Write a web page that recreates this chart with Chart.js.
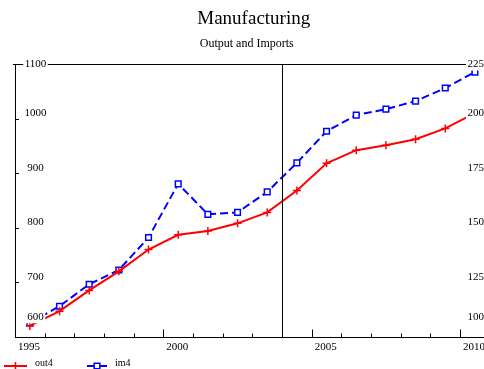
<!DOCTYPE html>
<html>
<head>
<meta charset="utf-8">
<script src="https://cdn.jsdelivr.net/npm/chart.js@4/dist/chart.umd.min.js"></script>
<style>
  html, body { margin: 0; padding: 0; background: #fff; overflow: hidden; }
  #wrap { width: 484px; height: 369px; position: relative; }
</style>
</head>
<body>
<div id="wrap"><canvas id="c"></canvas></div>
<script>
// Annual observations, plotted at mid-year
const years = [1995, 1996, 1997, 1998, 1999, 2000, 2001, 2002, 2003, 2004, 2005, 2006, 2007, 2008, 2009, 2010];
// Manufacturing output (left scale)
const out4 = [620, 647, 685, 720, 760, 787, 794, 808, 828, 868, 918, 942, 951, 962, 982, 1010];
// Manufacturing imports (right scale)
const im4 = [106.4, 114.0, 124.1, 130.6, 145.5, 170.1, 156.1, 157.0, 166.4, 179.7, 194.2, 201.6, 204.3, 208.0, 214.0, 221.3];

const xTickYears = [1995, 1996, 1997, 1998, 1999, 2000, 2001, 2002, 2003, 2004, 2005, 2006, 2007, 2008, 2009, 2010];
const xLabelYears = [1995, 2000, 2005, 2010];
const leftTicks = [600, 700, 800, 900, 1000, 1100];
const rightTicks = [100, 125, 150, 175, 200, 225];
const markerYear = 2004;

const SERIF = "'Liberation Serif', 'Times New Roman', serif";

function line(ctx, x1, y1, x2, y2) {
  ctx.beginPath(); ctx.moveTo(x1, y1); ctx.lineTo(x2, y2); ctx.stroke();
}

// Axis frame, inner tick marks, boxed value labels and the legend
const frame = {
  id: 'frame',
  afterLayout(chart) {
    // nudge the main heading a little to the right of the plot centre
    if (chart.titleBlock) { chart.titleBlock.left += 7; chart.titleBlock.right += 7; }
  },
  afterDatasetsDraw(chart) {
    const { ctx, chartArea: a, scales } = chart;
    const x = scales.x, yL = scales.yL, yR = scales.yR;
    const px = v => Math.round(v) + 0.5;
    const right = chart.width;
    ctx.save();
    ctx.strokeStyle = '#000';
    ctx.lineWidth = 1;
    ctx.setLineDash([]);

    line(ctx, px(a.left), a.top, px(a.left), a.bottom + 0.5);
    line(ctx, a.left - 2, px(a.top), right, px(a.top));
    line(ctx, a.left, px(a.bottom), right, px(a.bottom));
    const xm = px(x.getPixelForValue(markerYear));
    line(ctx, xm, a.top, xm, a.bottom);

    xTickYears.forEach(yr => {
      const len = yr % 5 === 0 ? 8 : 4;
      const xp = px(x.getPixelForValue(yr));
      line(ctx, xp, px(a.bottom), xp, px(a.bottom) - len);
    });
    leftTicks.slice(1, -1).forEach(v => {
      const yp = px(yL.getPixelForValue(v));
      line(ctx, a.left, yp, a.left + 4, yp);
    });

    ctx.font = '11px ' + SERIF;
    ctx.textBaseline = 'middle';
    const place = yp => Math.min(Math.max(yp - 5.5, a.top), a.bottom - 20);
    const boxed = (text, cx, cy, align) => {
      const w = ctx.measureText(text).width;
      const left = align === 'center' ? cx - w / 2 : cx;
      ctx.fillStyle = '#fff';
      ctx.fillRect(left - 1.5, cy - 6.5, w + 3, 13);
      ctx.fillStyle = '#000';
      ctx.textAlign = 'left';
      ctx.fillText(text, left, cy);
    };
    leftTicks.forEach(v => boxed(String(v), a.left + 20.5, place(yL.getPixelForValue(v)), 'center'));
    rightTicks.forEach(v => boxed(String(v), right - 16.5, place(yR.getPixelForValue(v)), 'left'));

    // legend
    const items = [{ x0: 4, x1: 27, tx: 35 }, { x0: 87, x1: 107, tx: 115 }];
    chart.data.datasets.forEach((ds, i) => {
      const it = items[i];
      const ly = 366;
      ctx.strokeStyle = ds.borderColor;
      ctx.lineWidth = ds.borderWidth;
      ctx.setLineDash(ds.borderDash || []);
      line(ctx, it.x0, ly, it.x1, ly);
      ctx.setLineDash([]);
      const mx = (it.x0 + it.x1) / 2;
      ctx.fillStyle = ds.pointBackgroundColor || ds.borderColor;
      ctx.strokeStyle = ds.borderColor;
      ctx.lineWidth = ds.pointBorderWidth;
      ctx.beginPath();
      if (ds.pointStyle === 'rect') {
        const s = ds.pointRadius * Math.SQRT2;
        ctx.rect(mx - s / 2, ly - s / 2, s, s);
        ctx.fill(); ctx.stroke();
      } else {
        const r = ds.pointRadius;
        ctx.moveTo(mx - r, ly); ctx.lineTo(mx + r, ly);
        ctx.moveTo(mx, ly - r); ctx.lineTo(mx, ly + r);
        ctx.stroke();
      }
      ctx.fillStyle = '#000';
      ctx.font = '10px ' + SERIF;
      ctx.textAlign = 'left';
      ctx.textBaseline = 'middle';
      ctx.fillText(ds.label, it.tx, 363);
    });
    ctx.restore();
  }
};

new Chart(document.getElementById('c'), {
  type: 'line',
  data: {
    datasets: [
      {
        label: 'out4',
        data: years.map((y, i) => ({ x: y + 0.5, y: out4[i] })),
        yAxisID: 'yL',
        borderColor: '#ff0000',
        borderWidth: 2,
        pointStyle: 'cross',
        pointRadius: 4,
        pointBorderWidth: 1.5,
        pointBorderColor: '#ff0000',
        tension: 0,
        clip: false
      },
      {
        label: 'im4',
        data: years.map((y, i) => ({ x: y + 0.5, y: im4[i] })),
        yAxisID: 'yR',
        borderColor: '#0000ff',
        borderWidth: 2,
        borderDash: [8, 4],
        pointStyle: 'rect',
        pointRadius: 4,
        pointBorderWidth: 1.5,
        pointBorderColor: '#0000ff',
        pointBackgroundColor: '#ffffff',
        tension: 0,
        clip: false
      }
    ]
  },
  options: {
    responsive: true,
    maintainAspectRatio: false,
    animation: false,
    events: [],
    layout: { padding: { left: 15, right: 0, top: 0, bottom: 11 } },
    scales: {
      x: {
        type: 'linear',
        min: 1995,
        max: 2010.62,
        position: 'bottom',
        grid: { display: false, drawTicks: false },
        border: { display: false },
        afterBuildTicks: s => { s.ticks = xLabelYears.map(v => ({ value: v })); },
        afterFit: s => { s.paddingLeft = 0; s.paddingRight = 0; },
        ticks: {
          align: 'start',
          padding: 4,
          labelOffset: 3,
          maxRotation: 0,
          autoSkip: false,
          color: '#000',
          font: { family: SERIF, size: 11 },
          callback: v => String(v)
        }
      },
      yL: { type: 'linear', position: 'left', min: 600, max: 1100, display: false },
      yR: { type: 'linear', position: 'right', min: 100, max: 225, display: false }
    },
    plugins: {
      legend: { display: false },
      tooltip: { enabled: false },
      title: {
        display: true,
        text: 'Manufacturing',
        fullSize: false,
        color: '#000',
        font: { family: SERIF, size: 19, weight: 'normal', lineHeight: 1.2 },
        padding: { top: 7.6, bottom: 0 }
      },
      subtitle: {
        display: true,
        text: 'Output and Imports',
        fullSize: false,
        color: '#000',
        font: { family: SERIF, size: 12, weight: 'normal', lineHeight: 1.2 },
        padding: { top: 6.4, bottom: 12.8 }
      }
    }
  },
  plugins: [frame]
});
</script>
</body>
</html>
